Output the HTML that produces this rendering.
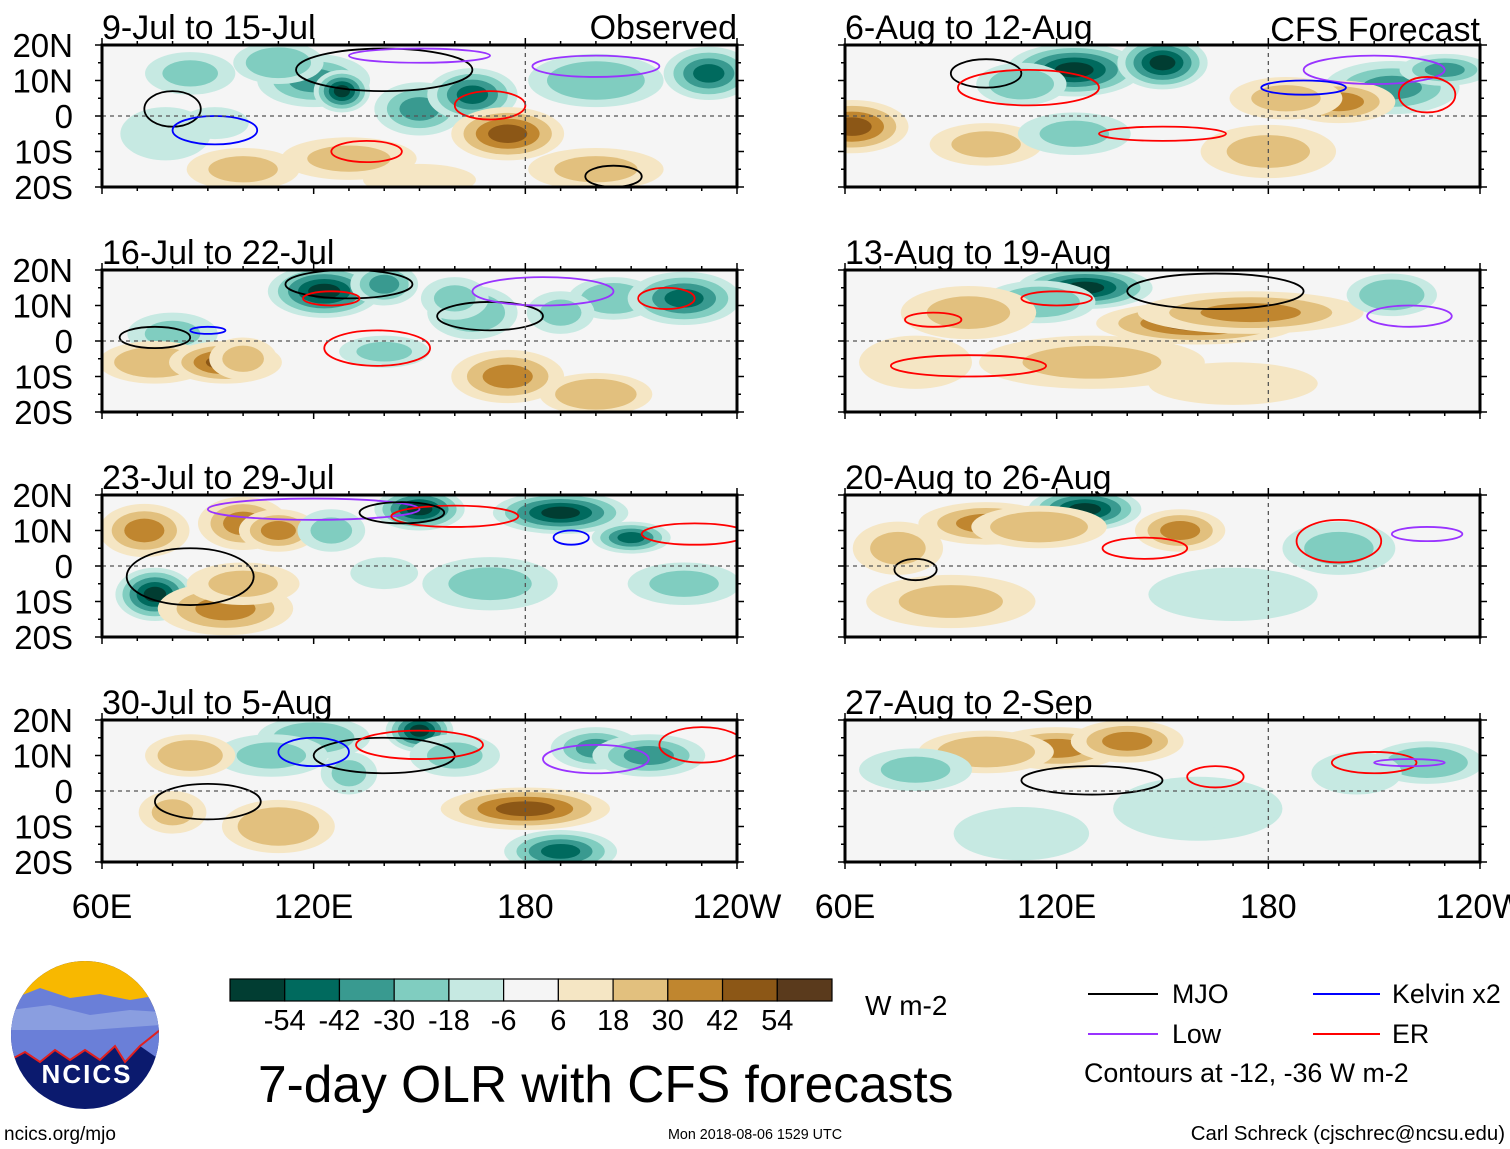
<!DOCTYPE html>
<html><head><meta charset="utf-8"><style>
body{margin:0;background:#fff;font-family:"Liberation Sans",sans-serif}
svg{display:block}
</style></head><body>
<svg id="chart" width="1510" height="1149" viewBox="0 0 1510 1149" xmlns="http://www.w3.org/2000/svg">
<defs>
<clipPath id="ncclip"><circle cx="85" cy="1035" r="74"/></clipPath>
</defs>
<g id="panels"></g>
<g id="cbar"></g>
<text x="865" y="1015" font-size="28">W m-2</text>
<text x="258" y="1102" font-size="51.5">7-day OLR with CFS forecasts</text>
<text x="668" y="1139" font-size="14.3">Mon 2018-08-06 1529 UTC</text>
<text x="4" y="1140" font-size="19">ncics.org/mjo</text>
<text x="1505" y="1140" font-size="20.4" text-anchor="end">Carl Schreck (cjschrec@ncsu.edu)</text>
<g font-size="26.8">
<line x1="1088" y1="994" x2="1158" y2="994" stroke="#000" stroke-width="2"/><text x="1172" y="1003">MJO</text>
<line x1="1313" y1="994" x2="1380" y2="994" stroke="#0000ff" stroke-width="2"/><text x="1392" y="1003">Kelvin x2</text>
<line x1="1088" y1="1034" x2="1158" y2="1034" stroke="#9933ff" stroke-width="2"/><text x="1172" y="1043">Low</text>
<line x1="1313" y1="1034" x2="1380" y2="1034" stroke="#ff0000" stroke-width="2"/><text x="1392" y="1043">ER</text>
<text x="1084" y="1082">Contours at -12, -36 W m-2</text>
</g>
<g clip-path="url(#ncclip)">
<rect x="10" y="960" width="150" height="150" fill="#0b1a6e"/>
<rect x="10" y="960" width="150" height="50" fill="#f8b800"/>
<path d="M10,1000 L40,988 L70,998 L100,994 L130,1000 L160,995 L160,1060 L140,1046 L125,1062 L115,1046 L100,1060 L85,1050 L70,1060 L55,1050 L40,1062 L25,1052 L10,1060Z" fill="#6a7fd8"/>
<path d="M10,1010 L50,1005 L90,1015 L130,1010 L160,1012 L160,1025 L90,1030 L10,1030Z" fill="#8a9ee0"/>
<path d="M10,1060 L25,1052 L40,1062 L55,1050 L70,1060 L85,1050 L100,1060 L115,1046 L125,1062 L140,1046 L160,1030" fill="none" stroke="#e02020" stroke-width="2"/>
<text x="87" y="1083" font-size="26" font-weight="bold" fill="#fff" text-anchor="middle" letter-spacing="2">NCICS</text>
</g>
</svg>
<script>
const NS="http://www.w3.org/2000/svg";
const cbColors=["#013d32","#006a5e","#399a90","#80cdc0","#c6e9e2","#f5f5f5","#f5e6c4","#e2c07e","#c0862f","#8c5716","#5a3a1c"];
const cbLabels=["-54","-42","-30","-18","-6","6","18","30","42","54"];
const panelTitles=["9-Jul to 15-Jul","16-Jul to 22-Jul","23-Jul to 29-Jul","30-Jul to 5-Aug","6-Aug to 12-Aug","13-Aug to 19-Aug","20-Aug to 26-Aug","27-Aug to 2-Sep"];
const latLabels=["20N","10N","0","10S","20S"];
const latTicks=[20,10,0,-10,-20];
const lonLabels=["60E","120E","180","120W"];
const lonTicks=[60,120,180,240];
// blobs per panel: lon, lat, lonRadius(deg), latRadius(deg), OLR anomaly
const blobLon=[
 [120,128,110,150,165,200,232,85,78,175,130,100,200,150,92],
 [123,140,165,205,225,80,75,175,95,100,140,190,200,160],
 [72,75,100,110,150,190,210,125,170,95,100,225,140],
 [120,108,150,85,160,110,80,180,200,215,190,130],
 [125,150,110,215,200,62,100,185,180,125,230],
 [128,115,95,160,175,215,130,170,80],
 [128,100,75,155,115,200,170,90],
 [120,140,100,80,225,205,160,110]];
const blobLat=[
 [10,7,15,2,6,10,12,12,-5,-5,-12,-15,-15,-18,-2],
 [14,16,8,12,12,2,-6,-10,-6,-5,-3,8,-15,12],
 [10,-8,12,10,16,15,8,10,-5,-12,-5,-5,-2],
 [15,10,17,10,10,-10,-6,-5,12,10,-17,5],
 [13,15,9,8,4,-3,-8,5,-10,-5,13],
 [15,11,8,5,8,13,-6,-12,-6],
 [16,12,5,10,11,5,-8,-10],
 [12,14,11,6,8,5,-5,-12]];
const blobRX=[
 [10,5,8,8,8,12,8,8,8,10,12,10,12,10,6],
 [10,6,8,8,10,8,10,10,10,6,8,6,10,6],
 [8,7,8,7,8,12,7,6,12,12,10,10,6],
 [10,10,6,8,8,10,6,15,8,10,10,5],
 [12,8,8,12,10,10,10,10,12,10,8],
 [12,10,12,18,20,8,20,15,10],
 [10,12,8,8,12,10,15,15],
 [12,10,12,10,10,8,15,12]];
const blobRY=[
 [5,4,4,5,5,5,5,4,5,5,4,4,4,3,3],
 [5,4,5,4,5,4,4,5,4,4,3,4,4,4],
 [5,5,5,4,4,4,3,4,5,5,4,4,3],
 [4,4,4,4,4,5,4,4,4,4,4,4],
 [5,5,4,5,4,5,4,4,5,4,3],
 [4,4,5,4,4,4,5,4,5],
 [4,4,5,4,4,5,5,5],
 [4,4,4,4,4,4,6,5]];
const blobVal=[
 [-35,-60,-30,-35,-45,-30,-45,-20,-18,45,25,25,22,12,-12],
 [-60,-40,-30,-30,-45,-20,30,40,45,25,-20,-25,30,-20],
 [35,-55,38,40,-55,-60,-45,-25,-20,35,25,-20,-15],
 [-30,-25,-60,30,-25,30,25,45,-35,-35,-50,-20],
 [-55,-60,-30,-40,40,45,25,20,20,-25,-35],
 [-55,-30,22,45,35,-30,20,15,15],
 [-55,35,20,35,30,-20,-18,25],
 [40,35,30,-20,-30,-18,-18,-15]];
// contours per panel: type (0 MJO,1 Kelvin,2 Low,3 ER), lon, lat, rlon, rlat
const ctType=[[0,0,1,3,3,2,2,0],[0,3,0,3,2,0,3,1],[0,3,2,3,0,1],[0,1,3,3,2,0],[0,3,3,2,1,3],[3,0,3,2,3],[0,3,2,3],[0,3,2,3]];
const ctLon=[[140,80,92,170,135,200,150,205],[130,138,170,125,185,75,220,90],[85,228,120,160,145,193],[140,120,150,230,200,90],[100,112,150,210,190,225],[95,165,120,220,85],[80,200,225,145],[130,210,220,165]];
const ctLat=[[13,2,-4,3,-10,14,17,-17],[16,-2,7,12,14,1,12,3],[-3,9,16,14,15,8],[10,11,13,13,9,-3],[12,8,-5,13,8,6],[-7,14,12,7,6],[-1,7,9,5],[3,8,8,4]];
const ctRX=[[25,8,12,10,10,18,20,8],[18,15,15,8,20,10,8,5],[18,15,30,18,12,5],[20,10,18,12,15,15],[10,20,18,20,12,8],[22,25,10,12,8],[6,12,10,12],[20,12,10,8]];
const ctRY=[[6,5,4,4,3,3,2,3],[4,5,4,2,4,3,3,1],[8,3,3,3,3,2],[5,4,4,5,4,5],[4,5,2,4,2,5],[3,5,2,3,2],[3,6,2,3],[4,3,1,3]];
const ctColors=["#000","#0000ff","#9933ff","#ff0000"];

const root=document.getElementById('panels');
function mk(tag,attrs,parent){const e=document.createElementNS(NS,tag);for(const k in attrs)e.setAttribute(k,attrs[k]);(parent||root).appendChild(e);return e;}
const W=635,H=142;
const lefts=[102,845], tops=[45,270,495,720];
function colorIdx(v){if(v<-54)return 0;if(v<-42)return 1;if(v<-30)return 2;if(v<-18)return 3;if(v<-6)return 4;if(v<=6)return 5;if(v<=18)return 6;if(v<=30)return 7;if(v<=42)return 8;if(v<=54)return 9;return 10;}
for(let p=0;p<8;p++){
  const x0=lefts[p<4?0:1], y0=tops[p%4];
  const sx=lon=>x0+(lon-60)/180*W;
  const sy=lat=>y0+(20-lat)/40*H;
  const g=mk('g',{});
  
  
  const cid='clip'+p;
  const cp=mk('clipPath',{id:cid},g);mk('rect',{x:x0,y:y0,width:W,height:H},cp);
  const inner=mk('g',{'clip-path':'url(#'+cid+')'},g);
  mk('rect',{x:x0,y:y0,width:W,height:H,fill:'#f5f5f5'},inner);
  for(let i=0;i<blobVal[p].length;i++){
    const v=blobVal[p][i];const n=Math.max(1,Math.floor((Math.abs(v)+6)/12));
    for(let k=0;k<n;k++){
      const f=1-k/(n+0.6);
      const lv=(v<0?-1:1)*(12*(k+1)-6+0.01);
      const e=mk('ellipse',{cx:sx(blobLon[p][i]),cy:sy(blobLat[p][i]),rx:blobRX[p][i]/180*W*f*1.6,ry:blobRY[p][i]/40*H*f*1.5,fill:cbColors[colorIdx(k===n-1?v:lv)]},inner);
      
      
    }
  }
  for(let i=0;i<ctType[p].length;i++){
    const e=mk('ellipse',{cx:sx(ctLon[p][i]),cy:sy(ctLat[p][i]),rx:ctRX[p][i]/180*W,ry:ctRY[p][i]/40*H,fill:'none',stroke:ctColors[ctType[p][i]],'stroke-width':1.8},inner);
    
    
  }
  mk('line',{x1:x0,x2:x0+W,y1:sy(0),y2:sy(0),stroke:'#555','stroke-dasharray':'4,4','stroke-width':1.3},inner);
  mk('line',{x1:sx(180),x2:sx(180),y1:y0,y2:y0+H,stroke:'#555','stroke-dasharray':'4,4','stroke-width':1.3},inner);
  mk('rect',{x:x0,y:y0,width:W,height:H,fill:'none',stroke:'#000','stroke-width':3},g);
  for(let lon=60;lon<=240;lon+=10){const L=(lon%60===0)?7:4;
    mk('line',{x1:sx(lon),x2:sx(lon),y1:y0-L,y2:y0,stroke:'#000','stroke-width':1.5},g);
    mk('line',{x1:sx(lon),x2:sx(lon),y1:y0+H,y2:y0+H+L,stroke:'#000','stroke-width':1.5},g);}
  for(let lat=-20;lat<=20;lat+=5){const L=(lat%10===0)?7:4;
    mk('line',{x1:x0-L,x2:x0,y1:sy(lat),y2:sy(lat),stroke:'#000','stroke-width':1.5},g);
    mk('line',{x1:x0+W,x2:x0+W+L,y1:sy(lat),y2:sy(lat),stroke:'#000','stroke-width':1.5},g);}
  const t=mk('text',{x:x0,y:y0-6,'font-size':34},g);t.textContent=panelTitles[p];
  
  
  if(p===0){const o=mk('text',{x:x0+W,y:y0-6,'font-size':34,'text-anchor':'end'},g);o.textContent='Observed';}
  if(p===4){const o=mk('text',{x:x0+W,y:y0-4,'font-size':34,'text-anchor':'end'},g);o.textContent='CFS Forecast';}
  if(p<4){for(let i=0;i<latTicks.length;i++){const l=mk('text',{x:73,y:sy(latTicks[i])+12,'font-size':33,'text-anchor':'end'},g);l.textContent=latLabels[i];
    
    }}
  if(p%4===3){for(let i=0;i<lonTicks.length;i++){const l=mk('text',{x:sx(lonTicks[i]),y:y0+H+56,'font-size':34,'text-anchor':'middle'},g);l.textContent=lonLabels[i];
    
    }}
}
const cb=document.getElementById('cbar');
const bw=602/11;
for(let i=0;i<11;i++){const r=mk('rect',{x:230+i*bw,y:979,width:bw,height:22,fill:cbColors[i],stroke:'#000','stroke-width':1.2},cb);
  
  }
for(let i=0;i<10;i++){const t=mk('text',{x:230+(i+1)*bw,y:1030,'font-size':29,'text-anchor':'middle'},cb);t.textContent=cbLabels[i];
  
  }
</script>
</body></html>
